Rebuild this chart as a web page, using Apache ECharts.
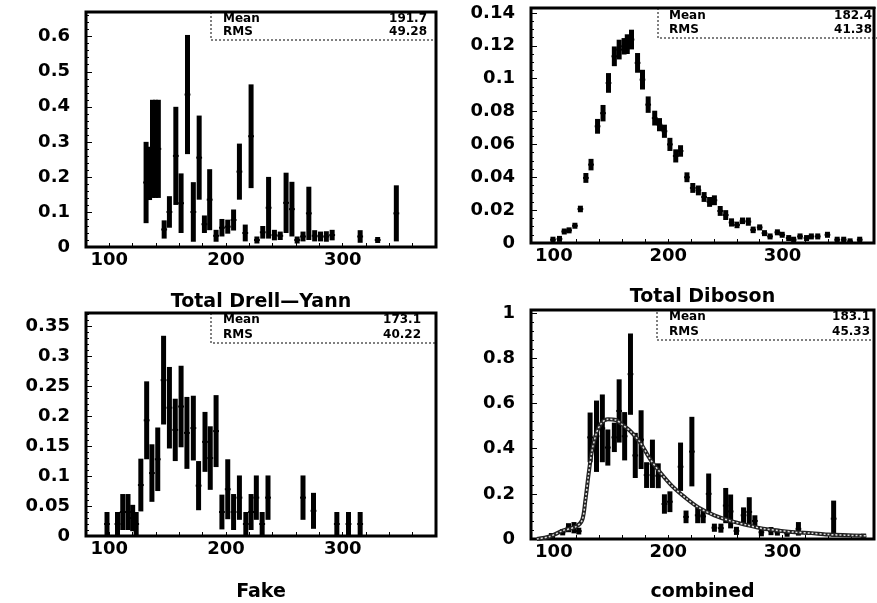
<!DOCTYPE html>
<html>
<head>
<meta charset="utf-8">
<script src="https://cdn.jsdelivr.net/npm/echarts@6/dist/echarts.min.js"></script>
<style>
  html, body { margin: 0; padding: 0; background: #fff; }
  #main { width: 877px; height: 603px; }
</style>
</head>
<body>
<div id="main"></div>
<script>
// Total Drell-Yann
var dyX = [131.5, 134.5, 137, 139.5, 142, 147, 151.5, 157, 161.5, 167, 172, 177, 181.5, 186, 191.5, 196.5, 201.5, 206.5, 211.5, 216.5, 221.5, 226.5, 231.5, 236.5, 241.5, 246.5, 251.5, 256.5, 261, 266, 271, 276, 281, 286, 291, 315, 330, 346];
var dyY = [0.184, 0.21, 0.28, 0.28, 0.28, 0.05, 0.10, 0.26, 0.125, 0.435, 0.10, 0.255, 0.065, 0.135, 0.032, 0.055, 0.058, 0.077, 0.215, 0.04, 0.316, 0.02, 0.042, 0.112, 0.034, 0.032, 0.126, 0.108, 0.02, 0.03, 0.096, 0.032, 0.03, 0.03, 0.034, 0.03, 0.02, 0.096];
var dyErr = [0.116, 0.076, 0.14, 0.14, 0.14, 0.026, 0.045, 0.14, 0.085, 0.17, 0.085, 0.12, 0.025, 0.087, 0.017, 0.025, 0.02, 0.03, 0.08, 0.024, 0.148, 0.01, 0.018, 0.088, 0.015, 0.012, 0.086, 0.078, 0.01, 0.014, 0.076, 0.016, 0.014, 0.015, 0.015, 0.018, 0.008, 0.08];

// Total Diboson
var dbX = [99.2, 104.9, 109.1, 113.3, 118.4, 123.2, 128, 132.5, 138.2, 143, 147.8, 152.9, 157.1, 161.4, 164.2, 167.9, 173.2, 177.5, 182.5, 188.2, 192.4, 196.7, 201.5, 206.6, 210.8, 216.4, 221.5, 226.4, 231.4, 236.2, 240.4, 245.5, 250.3, 255.4, 260.2, 265, 270.1, 274.3, 280, 284.2, 289.1, 295.5, 299.7, 305.4, 309.7, 315.3, 321, 325.2, 330.8, 339.3, 347.8, 353.5, 359.1, 367.5];
var dbY = [0.002, 0.0025, 0.007, 0.0077, 0.0105, 0.0207, 0.0396, 0.0477, 0.071, 0.079, 0.0974, 0.1136, 0.1177, 0.1197, 0.121, 0.1238, 0.1096, 0.0994, 0.0842, 0.076, 0.072, 0.068, 0.060, 0.053, 0.056, 0.040, 0.0335, 0.032, 0.028, 0.025, 0.026, 0.0195, 0.017, 0.0125, 0.011, 0.0135, 0.013, 0.008, 0.0095, 0.006, 0.004, 0.0065, 0.005, 0.003, 0.002, 0.004, 0.003, 0.004, 0.004, 0.005, 0.002, 0.002, 0.001, 0.002];
var dbErr = [0.001, 0.001, 0.0012, 0.0012, 0.0015, 0.002, 0.003, 0.0035, 0.0045, 0.005, 0.006, 0.006, 0.006, 0.005, 0.006, 0.006, 0.006, 0.006, 0.005, 0.0045, 0.004, 0.004, 0.004, 0.004, 0.0035, 0.003, 0.003, 0.003, 0.003, 0.003, 0.003, 0.003, 0.003, 0.0025, 0.002, 0.002, 0.0025, 0.002, 0.0015, 0.0015, 0.0015, 0.0015, 0.0015, 0.001, 0.001, 0.001, 0.001, 0.001, 0.001, 0.001, 0.001, 0.001, 0.001, 0.001];

// Fake
var fkX = [98, 107, 111.5, 116, 120, 123, 127, 132, 136.5, 141.5, 146.5, 151.5, 156.5, 161.5, 166.5, 172, 176.5, 182, 186.5, 191.5, 196.5, 201.5, 206.5, 211.5, 217, 221.5, 226, 231, 236, 266, 275, 295, 305, 315];
var fkY = [0.02, 0.02, 0.04, 0.04, 0.03, 0.02, 0.085, 0.193, 0.105, 0.128, 0.26, 0.214, 0.177, 0.216, 0.172, 0.18, 0.084, 0.157, 0.13, 0.175, 0.04, 0.078, 0.04, 0.064, 0.02, 0.04, 0.064, 0.02, 0.064, 0.064, 0.042, 0.02, 0.02, 0.02];
var fkErr = [0.02, 0.02, 0.03, 0.03, 0.022, 0.02, 0.044, 0.065, 0.048, 0.053, 0.074, 0.068, 0.052, 0.068, 0.06, 0.054, 0.041, 0.05, 0.053, 0.06, 0.029, 0.05, 0.03, 0.037, 0.02, 0.03, 0.037, 0.02, 0.037, 0.037, 0.03, 0.02, 0.02, 0.02];

// combined
var cbX = [97.8, 107.7, 112.8, 117.6, 121.8, 131.7, 137.3, 142.4, 147.2, 152.9, 157.1, 161.9, 167, 171.2, 176.3, 181.1, 186.2, 191.3, 196.7, 201.5, 210.8, 215.6, 220.7, 225.8, 230.6, 235.4, 240.4, 246.1, 250.3, 254.6, 259.7, 265.9, 270.9, 275.8, 281.5, 289.9, 295.5, 304, 313.9, 344.7, 370.8];
var cbY = [0.013, 0.03, 0.05, 0.05, 0.035, 0.45, 0.455, 0.49, 0.405, 0.45, 0.567, 0.455, 0.73, 0.37, 0.44, 0.283, 0.333, 0.28, 0.155, 0.165, 0.32, 0.098, 0.387, 0.105, 0.1, 0.2, 0.05, 0.048, 0.148, 0.122, 0.036, 0.105, 0.12, 0.08, 0.03, 0.035, 0.03, 0.025, 0.045, 0.09, 0.01];
var cbErr = [0.013, 0.014, 0.02, 0.025, 0.015, 0.11, 0.158, 0.15, 0.08, 0.065, 0.14, 0.107, 0.18, 0.1, 0.13, 0.057, 0.107, 0.055, 0.043, 0.046, 0.107, 0.028, 0.154, 0.035, 0.03, 0.09, 0.018, 0.02, 0.078, 0.075, 0.018, 0.035, 0.065, 0.025, 0.018, 0.018, 0.015, 0.015, 0.03, 0.08, 0.008];
// fitted curve on combined
var cvX = [85.1, 96.4, 107.7, 119, 124.7, 127.5, 130.3, 133.1, 137.3, 141.6, 147.2, 154.3, 159.9, 167, 175.5, 184, 192.5, 203.7, 215, 226.4, 240.4, 254.6, 268.7, 282.8, 297, 311.1, 325.2, 339.3, 373.2];
var cvY = [0, 0.011, 0.037, 0.054, 0.083, 0.169, 0.284, 0.384, 0.47, 0.513, 0.53, 0.527, 0.506, 0.477, 0.427, 0.355, 0.298, 0.233, 0.183, 0.14, 0.105, 0.08, 0.062, 0.046, 0.037, 0.03, 0.026, 0.02, 0.014];

var titles = ['Total Drell\u2014Yann', 'Total Diboson', 'Fake', 'combined'];
var means = ['191.7', '182.4', '173.1', '183.1'];
var rmss = ['49.28', '41.38', '40.22', '45.33'];

var FONT = 'DejaVu Sans';

function pts(xs, ys, es) {
    return xs.map(function (x, i) { return [x, ys[i], es ? es[i] : 0]; });
}

// thick error bar + bin marker
function errBar(params, api) {
    var x = api.value(0), y = api.value(1), e = api.value(2);
    var top = api.coord([x, y + e]);
    var bot = api.coord([x, y - e]);
    var c = api.coord([x, y]);
    var half = api.size([2.5, 0])[0];
    var h = Math.max(bot[1] - top[1], 6);
    var y0 = Math.min(top[1], c[1] - h / 2);
    return {
        type: 'group',
        children: [
            { type: 'rect', shape: { x: c[0] - 2.5, y: y0, width: 5, height: h }, style: { fill: '#000' } },
            { type: 'line', shape: { x1: c[0] - half, y1: c[1], x2: c[0] + half, y2: c[1] }, style: { stroke: '#000', lineWidth: 2 } }
        ]
    };
}

var grids = [
    { left: 86, top: 12, width: 350, height: 235 },
    { left: 531, top: 8, width: 354, height: 235 },
    { left: 86, top: 313, width: 350, height: 235 },
    { left: 531, top: 310, width: 354, height: 236 }
];
var yMax = [0.6705, 0.143, 0.372, 1.014];
var yStep = [0.1, 0.02, 0.05, 0.2];
var yMinor = [5, 4, 5, 5];
var nameGap = [46, 45, 47, 44];

var option = {
    backgroundColor: '#fff',
    animation: false,
    grid: grids.map(function (g) {
        return { left: g.left, top: g.top, width: g.width, height: g.height, show: true, borderColor: '#000', borderWidth: 3, backgroundColor: 'transparent' };
    }),
    xAxis: grids.map(function (g, i) {
        return {
            type: 'value', gridIndex: i, min: 80, max: 380, interval: 20,
            name: titles[i], nameLocation: 'middle', nameGap: nameGap[i],
            nameTextStyle: { fontFamily: FONT, fontSize: 19, fontWeight: 'bold', color: '#000' },
            axisLine: { show: false },
            axisTick: { show: true, inside: true, length: 4, lineStyle: { color: '#000', width: 1 } },
            splitLine: { show: false },
            axisLabel: {
                fontFamily: FONT, fontSize: 18, fontWeight: 'bold', color: '#000', margin: 4,
                formatter: function (v) { return v % 100 === 0 ? String(v) : ''; }
            }
        };
    }),
    yAxis: grids.map(function (g, i) {
        return {
            type: 'value', gridIndex: i, min: 0, max: yMax[i], interval: yStep[i],
            axisLine: { show: false },
            axisTick: { show: true, inside: true, length: 6, lineStyle: { color: '#000', width: 1 } },
            minorTick: { show: true, splitNumber: yMinor[i], length: 3, lineStyle: { color: '#000', width: 1 } },
            splitLine: { show: false },
            axisLabel: { fontFamily: FONT, fontSize: 18, fontWeight: 'bold', color: '#000', margin: 16, showMaxLabel: false }
        };
    }),
    series: [
        { type: 'custom', xAxisIndex: 0, yAxisIndex: 0, clip: true, renderItem: errBar, data: pts(dyX, dyY, dyErr) },
        { type: 'custom', xAxisIndex: 1, yAxisIndex: 1, clip: true, renderItem: errBar, data: pts(dbX, dbY, dbErr) },
        { type: 'custom', xAxisIndex: 2, yAxisIndex: 2, clip: true, renderItem: errBar, data: pts(fkX, fkY, fkErr) },
        { type: 'custom', xAxisIndex: 3, yAxisIndex: 3, clip: true, renderItem: errBar, data: pts(cbX, cbY, cbErr) },
        {
            type: 'line', xAxisIndex: 3, yAxisIndex: 3, smooth: 0.3, showSymbol: false, z: 3,
            lineStyle: { color: '#222', width: 4 }, data: pts(cvX, cvY)
        },
        {
            type: 'line', xAxisIndex: 3, yAxisIndex: 3, smooth: 0.3, showSymbol: false, z: 4,
            lineStyle: { color: '#ddd', width: 1.5, type: [2, 2] }, data: pts(cvX, cvY)
        }
    ],
    graphic: []
};

// statistics boxes
var boxes = [
    { x1: 211, y1: 12, x2: 436, y2: 40, tx: 223, ty: [19, 32], vr: 427 },
    { x1: 658, y1: 8, x2: 885, y2: 38, tx: 669, ty: [16, 30], vr: 872 },
    { x1: 211, y1: 313, x2: 436, y2: 343, tx: 223, ty: [320, 335], vr: 421 },
    { x1: 657, y1: 310, x2: 885, y2: 340, tx: 669, ty: [317, 331.5], vr: 870 }
];
boxes.forEach(function (b, i) {
    option.graphic.push({
        type: 'rect', shape: { x: b.x1, y: b.y1, width: b.x2 - b.x1, height: b.y2 - b.y1 },
        style: { fill: 'transparent', stroke: '#000', lineWidth: 1, lineDash: [2, 2] }, z: 10
    });
    [['Mean', means[i]], ['RMS', rmss[i]]].forEach(function (row, k) {
        option.graphic.push({
            type: 'text', x: b.tx, y: b.ty[k], z: 11,
            style: { text: row[0], font: 'bold 12px "DejaVu Sans"', fill: '#000', textVerticalAlign: 'middle' }
        });
        option.graphic.push({
            type: 'text', x: b.vr, y: b.ty[k], z: 11,
            style: { text: row[1], font: 'bold 12px "DejaVu Sans"', fill: '#000', textAlign: 'right', textVerticalAlign: 'middle' }
        });
    });
});

var chart = echarts.init(document.getElementById('main'), null, { renderer: 'canvas' });
chart.setOption(option);
</script>
</body>
</html>
